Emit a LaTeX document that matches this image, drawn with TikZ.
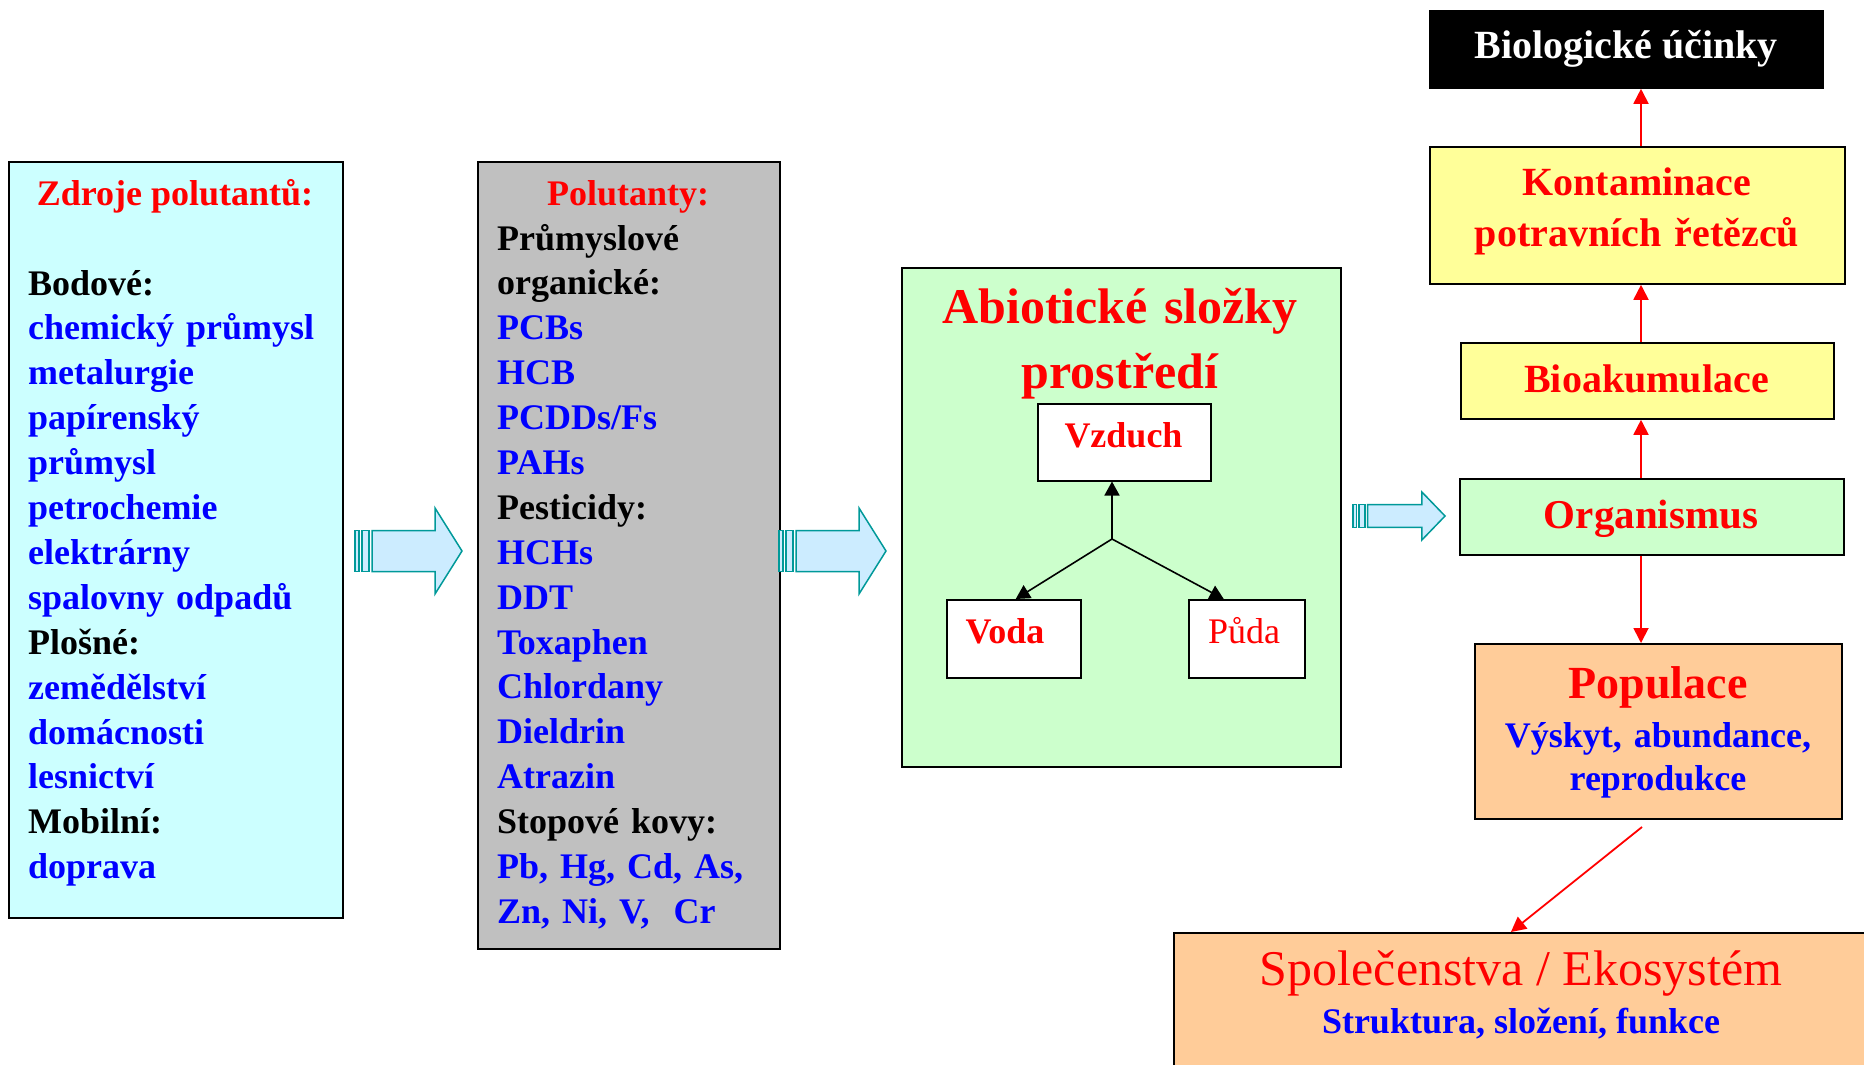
\documentclass[tikz,border=0pt]{standalone}
\usepackage{fontspec}
\setmainfont{Liberation Serif}
\usetikzlibrary{arrows.meta}
\definecolor{cyanbg}{HTML}{CCFFFF}
\definecolor{graybg}{HTML}{C0C0C0}
\definecolor{greenbg}{HTML}{CCFFCC}
\definecolor{yellowbg}{HTML}{FFFF99}
\definecolor{orangebg}{HTML}{FFCC99}
\definecolor{arrfill}{HTML}{CCECFF}
\definecolor{arredge}{HTML}{009999}
\newcommand\myfs[2]{\fontsize{#1}{#2}\selectfont}
\newcommand\itm[1]{\textcolor{blue}{#1}}
\begin{document}
\begin{tikzpicture}[x=1pt,y=-1pt,
  box/.style={draw=black, line width=1.8pt, inner sep=0pt, anchor=north west},
  txt/.style={inner sep=0pt, anchor=base},
  lst/.style={inner sep=0pt, anchor=base west, align=left, text width=320pt, font=\bfseries\myfs{36}{44.9}},
  redarr/.style={draw=red, line width=1.8pt, -{Triangle[length=15pt,width=15pt]}},
  blkarr/.style={draw=black, line width=1.6pt, -{Triangle[length=14pt,width=15pt]}},
  arrline/.style={draw=arredge, line width=1.5pt, fill=arrfill},
  blockarr/.pic={
    \draw[arrline] (0,-20.5) rectangle (4,20.5);
    \draw[arrline] (7,-20.5) rectangle (14,20.5);
    \draw[arrline] (17,-20.5) -- (80,-20.5) -- (80,-43) -- (107,0) -- (80,43) -- (80,20.5) -- (17,20.5) -- cycle;
  }]
\useasboundingbox (0,0) rectangle (1864,1065);

% ---------- left box: sources
\node[box, fill=cyanbg, minimum width=334pt, minimum height=756pt] (src) at (8,161) {};
\node[txt, text=red, font=\bfseries\myfs{36}{44.9}] (srct) at (175,205) {Zdroje polutantů:};
\node[lst] (srcl) at (28,295) {Bodové:\\
\itm{chemický průmysl}\\
\itm{metalurgie}\\
\itm{papírenský}\\
\itm{průmysl}\\
\itm{petrochemie}\\
\itm{elektrárny}\\
\itm{spalovny odpadů}\\
Plošné:\\
\itm{zemědělství}\\
\itm{domácnosti}\\
\itm{lesnictví}\\
Mobilní:\\
\itm{doprava}};

% ---------- gray box: pollutants
\node[box, fill=graybg, minimum width=302pt, minimum height=787pt] (pol) at (477,161) {};
\node[txt, text=red, font=\bfseries\myfs{36}{44.9}] (polt) at (628,205) {Polutanty:};
\node[lst] (poll) at (497,250) {Průmyslové\\
organické:\\
\itm{PCBs}\\
\itm{HCB}\\
\itm{PCDDs/Fs}\\
\itm{PAHs}\\
Pesticidy:\\
\itm{HCHs}\\
\itm{DDT}\\
\itm{Toxaphen}\\
\itm{Chlordany}\\
\itm{Dieldrin}\\
\itm{Atrazin}\\
Stopové kovy:\\
\itm{Pb, Hg, Cd, As,}\\
\itm{Zn, Ni, V,\ \ Cr}};

% ---------- block arrows
\pic at (355,551) {blockarr};
\pic at (779,551) {blockarr};
\pic[xscale=0.86, yscale=0.56] at (1353,516) {blockarr};

% ---------- green box: abiotic
\node[box, fill=greenbg, minimum width=439pt, minimum height=499pt] (abio) at (901,267) {};
\node[txt, text=red, align=center, text width=430pt, font=\bfseries\myfs{50}{65}] (abiot) at (1120,323) {Abiotické složky\\prostředí};
\node[box, fill=white, line width=1.5pt, minimum width=173pt, minimum height=77pt] (vz) at (1037,403) {};
\node[txt, text=red, font=\bfseries\myfs{36}{40}] (vzt) at (1123.5,447) {Vzduch};
\node[box, fill=white, line width=1.5pt, minimum width=134pt, minimum height=78pt] (voda) at (946,599) {};
\node[txt, text=red, font=\bfseries\myfs{36}{40}] (vodat) at (1005,643) {Voda};
\node[box, fill=white, line width=1.5pt, minimum width=116pt, minimum height=78pt] (puda) at (1188,599) {};
\node[txt, text=red, font=\myfs{36}{40}] (pudat) at (1244,643) {Půda};
\coordinate (junc) at (1112,539);
\draw[blkarr] (junc) -- (junc |- vz.south);
\draw[blkarr] (junc) -- ([xshift=2pt]voda.north);
\draw[blkarr] (junc) -- ([xshift=-23pt]puda.north);

% ---------- right column
\coordinate (ax) at (1641,0);
\node[box, fill=black, draw=black, minimum width=393pt, minimum height=77pt] (biol) at (1429,10) {};
\node[txt, text=white, font=\bfseries\myfs{40}{48}] (biolt) at (1626,59) {Biologické účinky};

\node[box, fill=yellowbg, minimum width=415pt, minimum height=137pt] (kont) at (1429,146) {};
\node[txt, text=red, align=center, text width=410pt, font=\bfseries\myfs{40}{51}] (kontt) at (1637,195) {Kontaminace\\potravních řetězců};

\node[box, fill=yellowbg, minimum width=373pt, minimum height=76pt] (bioak) at (1460,342) {};
\node[txt, text=red, font=\bfseries\myfs{40}{48}] (bioakt) at (1646.5,392) {Bioakumulace};

\node[box, fill=greenbg, minimum width=384pt, minimum height=76pt] (org) at (1459,478) {};
\node[txt, text=red, font=\bfseries\myfs{41}{48}] (orgt) at (1651,528) {Organismus};

\node[box, fill=orangebg, minimum width=367pt, minimum height=175pt] (popu) at (1474,643) {};
\node[txt, text=red, font=\bfseries\myfs{46}{52}] (poput) at (1658,698) {Populace};
\node[txt, text=blue, align=center, text width=360pt, font=\bfseries\myfs{36}{43}] (popul) at (1658,747) {Výskyt, abundance,\\reprodukce};

\node[box, fill=orangebg, minimum width=707pt, minimum height=148pt] (spol) at (1173,932) {};
\node[txt, text=red, font=\myfs{50}{56}] (spolt) at (1521,985) {Společenstva / Ekosystém};
\node[txt, text=blue, font=\bfseries\myfs{36}{42}] (spoll) at (1521,1033) {Struktura, složení, funkce};

\draw[redarr] (kont.north -| ax) -- (biol.south -| ax);
\draw[redarr] (bioak.north -| ax) -- (kont.south -| ax);
\draw[redarr] (org.north -| ax) -- (bioak.south -| ax);
\draw[redarr] (org.south -| ax) -- (popu.north -| ax);
\coordinate (popout) at (1642,827);
\draw[redarr] (popout) -- ([xshift=-16.5pt]spol.north);
\end{tikzpicture}
\end{document}
